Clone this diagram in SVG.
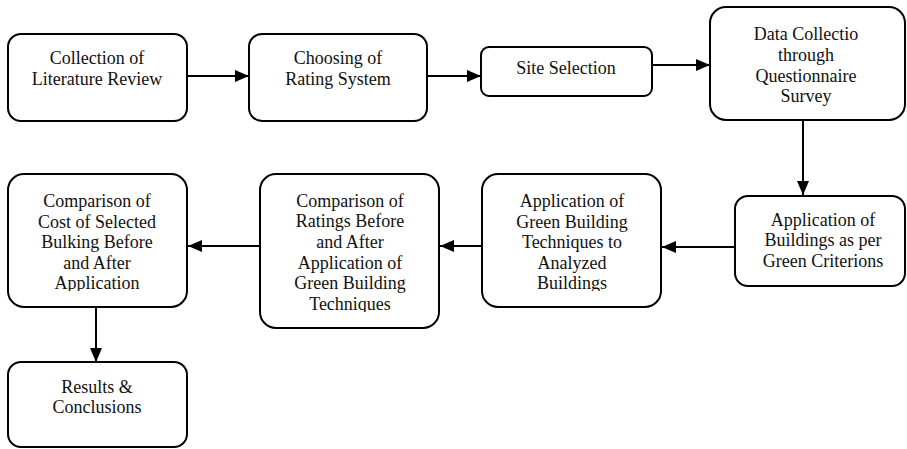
<svg xmlns="http://www.w3.org/2000/svg" width="907" height="449" viewBox="0 0 907 449">
<style>
  .box { fill: #fff; stroke: #000; stroke-width: 2; }
  .t { font-family: "Liberation Serif", "Times New Roman", serif; font-size: 18px; fill: #111; text-anchor: middle; }
  .c { stroke: #000; stroke-width: 2; fill: none; marker-end: url(#ah); }
</style>
<defs>
  <marker id="ah" markerUnits="userSpaceOnUse" markerWidth="14" markerHeight="12" refX="14" refY="6" orient="auto">
    <path d="M0,0 L14,6 L0,12 Z" fill="#000"/>
  </marker>
  <clipPath id="cl6"><rect x="482" y="174" width="180" height="117"/></clipPath>
  <clipPath id="cl7"><rect x="260" y="174" width="180" height="138"/></clipPath>
  <clipPath id="cl8"><rect x="8" y="174" width="180" height="117"/></clipPath>
</defs>
<rect width="907" height="449" fill="#fff"/>
<g id="connectors">
  <line class="c" x1="187" y1="76" x2="249" y2="76"/>
  <line class="c" x1="427" y1="76" x2="481" y2="76"/>
  <line class="c" x1="652" y1="65" x2="710" y2="65"/>
  <line class="c" x1="803" y1="120" x2="803" y2="195"/>
  <line class="c" x1="735" y1="247" x2="662" y2="247"/>
  <line class="c" x1="482" y1="246" x2="440" y2="246"/>
  <line class="c" x1="260" y1="246" x2="188" y2="246"/>
  <line class="c" x1="96" y1="307" x2="96" y2="362"/>
</g>
<g id="n1">
  <rect class="box" x="8" y="34" width="179" height="87" rx="13"/>
  <text class="t" x="97" y="64">Collection of</text>
  <text class="t" x="97" y="85">Literature Review</text>
</g>
<g id="n2">
  <rect class="box" x="249" y="34" width="178" height="87" rx="13"/>
  <text class="t" x="338" y="64">Choosing of</text>
  <text class="t" x="338" y="85">Rating System</text>
</g>
<g id="n3">
  <rect class="box" x="481" y="47" width="171" height="49" rx="8"/>
  <text class="t" x="566" y="74">Site Selection</text>
</g>
<g id="n4">
  <rect class="box" x="710" y="7" width="195" height="113" rx="16"/>
  <text class="t" x="806" y="40">Data Collectio</text>
  <text class="t" x="806" y="61">through</text>
  <text class="t" x="806" y="82">Questionnaire</text>
  <text class="t" x="806" y="102">Survey</text>
</g>
<g id="n5">
  <rect class="box" x="735" y="196" width="170" height="90" rx="13"/>
  <text class="t" x="823" y="226">Application of</text>
  <text class="t" x="823" y="246">Buildings as per</text>
  <text class="t" x="823" y="267">Green Criterions</text>
</g>
<g id="n6">
  <rect class="box" x="482" y="174" width="179" height="133" rx="16"/>
  <g clip-path="url(#cl6)">
    <text class="t" x="572" y="207">Application of</text>
    <text class="t" x="572" y="228">Green Building</text>
    <text class="t" x="572" y="248">Techniques to</text>
    <text class="t" x="572" y="269">Analyzed</text>
    <text class="t" x="572" y="289">Buildings</text>
  </g>
</g>
<g id="n7">
  <rect class="box" x="260" y="174" width="179" height="154" rx="16"/>
  <g clip-path="url(#cl7)">
    <text class="t" x="350" y="207">Comparison of</text>
    <text class="t" x="350" y="227">Ratings Before</text>
    <text class="t" x="350" y="248">and After</text>
    <text class="t" x="350" y="269">Application of</text>
    <text class="t" x="350" y="289">Green Building</text>
    <text class="t" x="350" y="310">Techniques</text>
  </g>
</g>
<g id="n8">
  <rect class="box" x="8" y="174" width="179" height="133" rx="16"/>
  <g clip-path="url(#cl8)">
    <text class="t" x="97" y="207">Comparison of</text>
    <text class="t" x="97" y="228">Cost of Selected</text>
    <text class="t" x="97" y="248">Bulking Before</text>
    <text class="t" x="97" y="269">and After</text>
    <text class="t" x="97" y="289">Application</text>
  </g>
</g>
<g id="n9">
  <rect class="box" x="8" y="362" width="179" height="85" rx="13"/>
  <text class="t" x="97" y="393">Results &amp;</text>
  <text class="t" x="97" y="413">Conclusions</text>
</g>
</svg>
